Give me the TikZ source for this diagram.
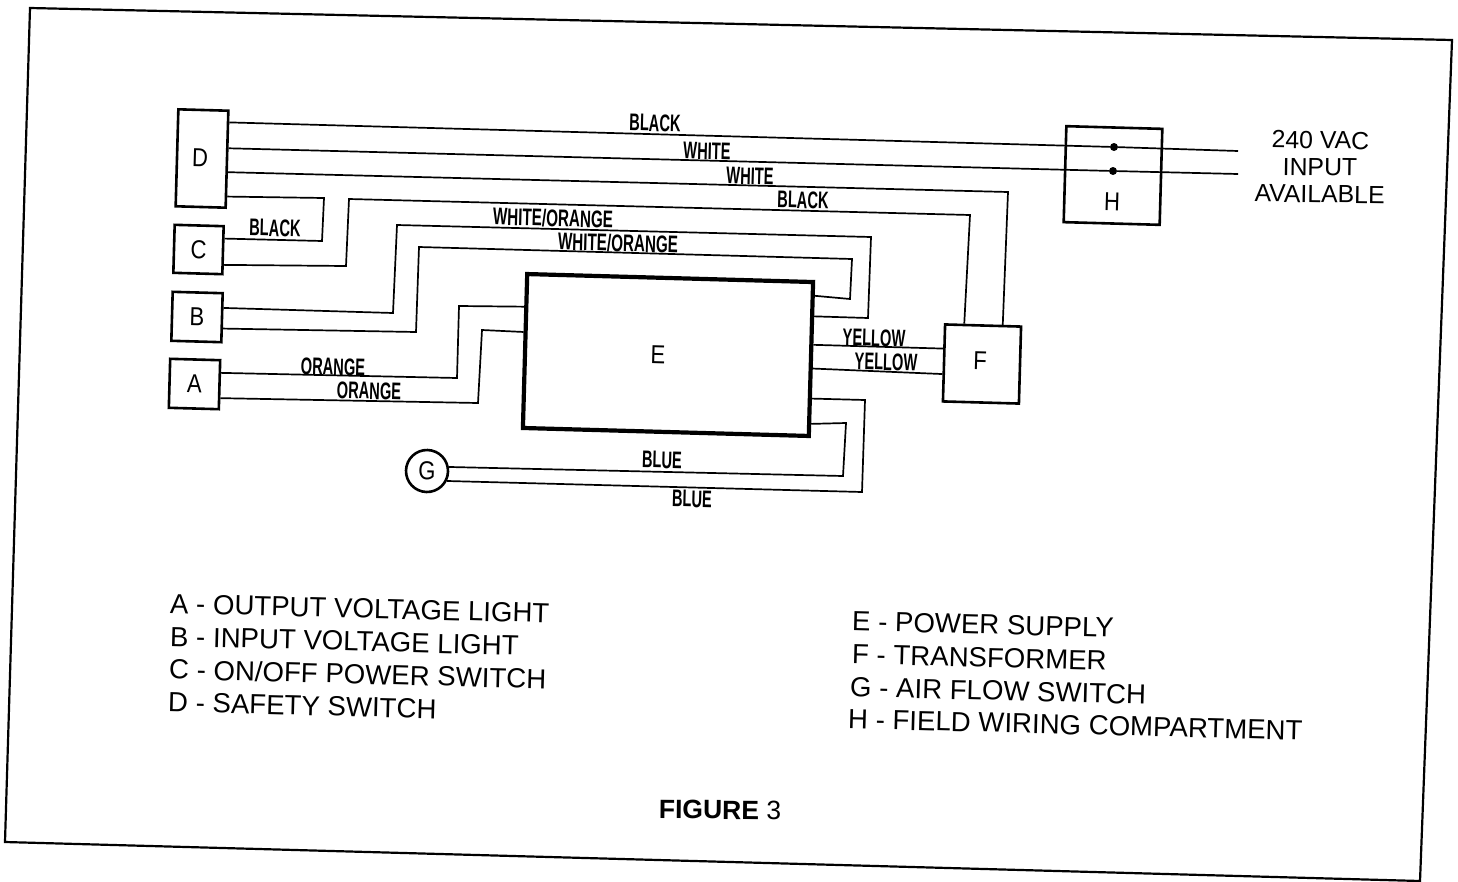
\documentclass[tikz,border=0pt]{standalone}
\usepackage{fontspec}
\usepackage{graphicx}
\setmainfont{Liberation Sans}
\usetikzlibrary{calc}

\newlength{\du}
\setlength{\du}{1pt}

\newcommand{\wiretext}[1]{\scalebox{.61}[1]{\fontsize{24}{24}\selectfont\bfseries #1}}
\newcommand{\boxtext}[1]{\scalebox{.85}[1]{\fontsize{26}{26}\selectfont #1}}

\tikzset{
  frameline/.style={line width=2.2\du,line join=miter},
  wire/.style={line width=1.7\du,line join=miter},
  partbox/.style={draw,line width=2.6\du,rotate=-1.6,inner sep=0pt},
  wirelabel/.style={rotate=-1.5,inner sep=0pt},
  legend/.style={anchor=west,rotate=-1.5,inner sep=0pt,font=\fontsize{27.6}{28}\selectfont},
  termdot/.style={circle,fill=black,minimum size=8\du,inner sep=0pt}
}

\begin{document}
\begin{tikzpicture}
\pgftransformxscale{1.000000}
\pgftransformyscale{-1.000000}
\useasboundingbox (0\du,0\du) rectangle (1458\du,881\du);
\draw[frameline] (30\du,8\du)--(1452\du,40\du)--(1420\du,881\du)--(5\du,842\du)--cycle;
% parts
\node[partbox,minimum width=50\du,minimum height=97\du] (boxD) at (202\du,158.5\du){};
\node[partbox,minimum width=49\du,minimum height=48\du] (boxC) at (198.5\du,249.5\du){\boxtext{C}};
\node[partbox,minimum width=50\du,minimum height=49\du] (boxB) at (197\du,317\du){\boxtext{B}};
\node[partbox,minimum width=50\du,minimum height=49\du] (boxA) at (194.5\du,384\du){\boxtext{A}};
\node[partbox,line width=4.2\du,minimum width=286\du,minimum height=154\du] (boxE) at (668\du,355\du){};
\node[partbox,minimum width=76\du,minimum height=77\du] (boxF) at (982\du,364\du){};
\node[partbox,circle,minimum size=42\du] (boxG) at (427\du,471\du){\boxtext{G}};
\node[partbox,minimum width=96\du,minimum height=96\du] (boxH) at (1113\du,175.5\du){};
\node[rotate=-1.6,inner sep=0pt] (textD) at (200\du,158\du){\boxtext{D}};
\node[rotate=-1.6,inner sep=0pt] (textE) at (658\du,355\du){\boxtext{E}};
\node[rotate=-1.6,inner sep=0pt] (textF) at (980\du,361\du){\boxtext{F}};
\node[rotate=-1.6,inner sep=0pt] (textH) at (1112\du,202\du){\boxtext{H}};
\node[termdot] (dotH1) at (1114\du,147\du){};
\node[termdot] (dotH2) at (1113\du,171\du){};
\coordinate (line1) at (1238\du,151\du);
\coordinate (line2) at (1238\du,174\du);
% wires from D
\draw[wire] ($(boxD.north east)!.13!(boxD.south east)$)--(dotH1)--(line1);
\draw[wire] ($(boxD.north east)!.39!(boxD.south east)$)--(dotH2)--(line2);
\draw[wire] ($(boxD.north east)!.63!(boxD.south east)$)--(1008\du,192\du)--($(boxF.north west)!.75!(boxF.north east)$);
\draw[wire] ($(boxD.north east)!.875!(boxD.south east)$)--(324\du,198\du)--(322\du,241\du)--($(boxC.north east)!.27!(boxC.south east)$);
% wires from C, B, A
\draw[wire] ($(boxC.north east)!.79!(boxC.south east)$)--(346\du,266\du)--(349\du,199\du)--(970\du,215\du)--($(boxF.north west)!.26!(boxF.north east)$);
\draw[wire] ($(boxB.north east)!.31!(boxB.south east)$)--(393\du,313\du)--(397\du,225\du)--(871\du,237\du)--(868\du,318\du)--($(boxE.north east)!.23!(boxE.south east)$);
\draw[wire] ($(boxB.north east)!.71!(boxB.south east)$)--(416\du,332\du)--(419\du,247\du)--(852\du,259\du)--(850\du,299\du)--($(boxE.north east)!.10!(boxE.south east)$);
\draw[wire] ($(boxA.north east)!.27!(boxA.south east)$)--(457\du,378\du)--(459\du,306\du)--($(boxE.north west)!.22!(boxE.south west)$);
\draw[wire] ($(boxA.north east)!.76!(boxA.south east)$)--(478\du,403\du)--(482\du,330\du)--($(boxE.north west)!.38!(boxE.south west)$);
% wires from E
\draw[wire] ($(boxE.north east)!.41!(boxE.south east)$)--($(boxF.north west)!.32!(boxF.south west)$);
\draw[wire] ($(boxE.north east)!.56!(boxE.south east)$)--($(boxF.north west)!.64!(boxF.south west)$);
\draw[wire] ($(boxE.north east)!.75!(boxE.south east)$)--(865\du,400\du)--(862\du,492\du)--(boxG.-25);
\draw[wire] ($(boxE.north east)!.91!(boxE.south east)$)--(846\du,423\du)--(843\du,476\du)--(boxG.12);
% wire names
\node[wirelabel] (nameD1) at (655\du,123\du){\wiretext{BLACK}};
\node[wirelabel] (nameD2) at (707\du,151\du){\wiretext{WHITE}};
\node[wirelabel] (nameD3) at (750\du,176\du){\wiretext{WHITE}};
\node[wirelabel] (nameC2) at (803\du,200\du){\wiretext{BLACK}};
\node[wirelabel] (nameC1) at (275\du,228\du){\wiretext{BLACK}};
\node[wirelabel] (nameB1) at (553\du,218\du){\scalebox{1.04}[1]{\wiretext{WHITE/ORANGE}}};
\node[wirelabel] (nameB2) at (618\du,243\du){\scalebox{1.04}[1]{\wiretext{WHITE/ORANGE}}};
\node[wirelabel] (nameA1) at (333\du,367\du){\wiretext{ORANGE}};
\node[wirelabel] (nameA2) at (369\du,391\du){\wiretext{ORANGE}};
\node[wirelabel] (nameF1) at (874\du,338\du){\wiretext{YELLOW}};
\node[wirelabel] (nameF2) at (886\du,362\du){\wiretext{YELLOW}};
\node[wirelabel] (nameG1) at (662\du,460\du){\wiretext{BLUE}};
\node[wirelabel] (nameG2) at (692\du,499\du){\wiretext{BLUE}};
\node[rotate=-0.8,inner sep=0pt,align=center,font=\fontsize{24.8}{27}\selectfont] (inputH) at (1320\du,167\du){240 VAC\\INPUT\\AVAILABLE};
% legend
\node[legend] (itemA) at (170\du,603.5\du){A - OUTPUT VOLTAGE LIGHT};
\node[legend] (itemB) at (170\du,636.5\du){B - INPUT VOLTAGE LIGHT};
\node[legend] (itemC) at (169\du,669\du){C - ON/OFF POWER SWITCH};
\node[legend] (itemD) at (168\du,702\du){D - SAFETY SWITCH};
\node[legend] (itemE) at (852\du,621\du){E - POWER SUPPLY};
\node[legend] (itemF) at (852\du,654\du){F - TRANSFORMER};
\node[legend] (itemG) at (850\du,687\du){G - AIR FLOW SWITCH};
\node[legend] (itemH) at (848\du,719\du){H - FIELD WIRING COMPARTMENT};
\node[rotate=-0.5,inner sep=0pt,font=\fontsize{26.5}{27}\selectfont] (figname) at (720\du,810\du){\textbf{FIGURE} 3};
\end{tikzpicture}
\end{document}
